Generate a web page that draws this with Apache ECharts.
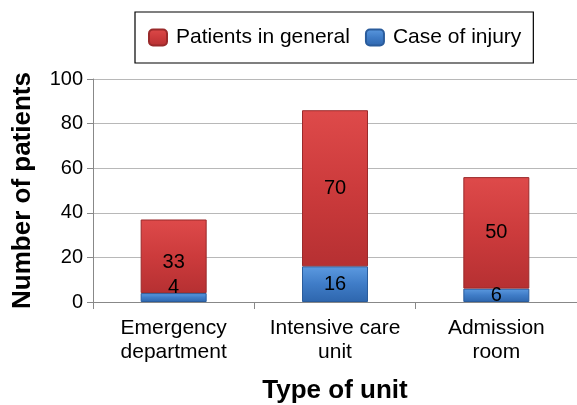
<!DOCTYPE html>
<html><head><meta charset="utf-8">
<script src="https://cdn.jsdelivr.net/npm/echarts@6/dist/echarts.min.js"></script>
<style>html,body{margin:0;padding:0;background:#fff}#c{width:577px;height:405px}</style>
</head><body><div id="c"></div>
<script>
const categories = ['Emergency\ndepartment', 'Intensive care\nunit', 'Admission\nroom'];
const injury = [4, 16, 6];
const general = [33, 70, 50];
const yTicks = [0, 20, 40, 60, 80, 100];

const FONT = '"Liberation Sans", Arial, sans-serif';
const redFill = new echarts.graphic.LinearGradient(0, 0, 0, 1, [
  {offset: 0, color: '#de4a4a'}, {offset: 0.5, color: '#cc3b3c'}, {offset: 1, color: '#b63032'}]);
const blueFill = new echarts.graphic.LinearGradient(0, 0, 0, 1, [
  {offset: 0, color: '#5c9ae0'}, {offset: 0.5, color: '#3f7cc7'}, {offset: 1, color: '#2e66ad'}]);

const labelStyle = {show: true, color: '#000', fontSize: 20, fontFamily: FONT};

const chart = echarts.init(document.getElementById('c'));
chart.setOption({
  animation: false,
  legend: {
    top: 12, left: 135,
    itemWidth: 18, itemHeight: 16, itemGap: 15,
    padding: [15, 12, 15, 13],
    borderColor: '#000', borderWidth: 1.2,
    textStyle: {fontSize: 21, fontFamily: FONT, color: '#000', padding: [0, 0, 0, 4]},
    data: ['Patients in general', 'Case of injury']
  },
  grid: {left: 93, right: 0, top: 79, bottom: 103, outerBoundsMode: 'none', containLabel: false},
  xAxis: {
    type: 'category', data: categories,
    name: 'Type of unit', nameLocation: 'middle', nameGap: 76, nameMoveOverlap: false,
    nameTextStyle: {fontSize: 26, fontWeight: 'bold', fontFamily: FONT, color: '#000'},
    axisLine: {lineStyle: {color: '#888'}},
    axisTick: {show: true, interval: 0, length: 7, lineStyle: {color: '#888'}},
    axisLabel: {interval: 0, hideOverlap: false, fontSize: 21, fontFamily: FONT, color: '#000', margin: 14, lineHeight: 24}
  },
  yAxis: {
    type: 'value', min: yTicks[0], max: yTicks[yTicks.length - 1], interval: 20,
    name: 'Number of patients', nameLocation: 'middle', nameGap: 57,
    nameTextStyle: {fontSize: 26, fontWeight: 'bold', fontFamily: FONT, color: '#000'},
    axisLine: {show: true, lineStyle: {color: '#888'}},
    axisTick: {show: true, length: 6, lineStyle: {color: '#888'}},
    axisLabel: {fontSize: 20, fontFamily: FONT, color: '#000', margin: 10},
    splitLine: {lineStyle: {color: '#b8b8b8'}}
  },
  series: [
    {
      name: 'Case of injury', type: 'bar', stack: 's', barWidth: 66,
      itemStyle: {color: blueFill, borderColor: '#2a5c9c', borderWidth: 1},
      label: Object.assign({}, labelStyle, {position: 'inside'}),
      data: injury.map((v, i) => i === 0 ? {value: v, label: {position: 'top', distance: 0, offset: [0, 4]}} : v)
    },
    {
      name: 'Patients in general', type: 'bar', stack: 's', barWidth: 66,
      itemStyle: {color: redFill, borderColor: '#9a2a2b', borderWidth: 1},
      label: Object.assign({}, labelStyle, {position: 'inside'}),
      data: general.map((v, i) => i === 0 ? {value: v, label: {offset: [0, 6]}} : v)
    }
  ]
});
</script></body></html>
